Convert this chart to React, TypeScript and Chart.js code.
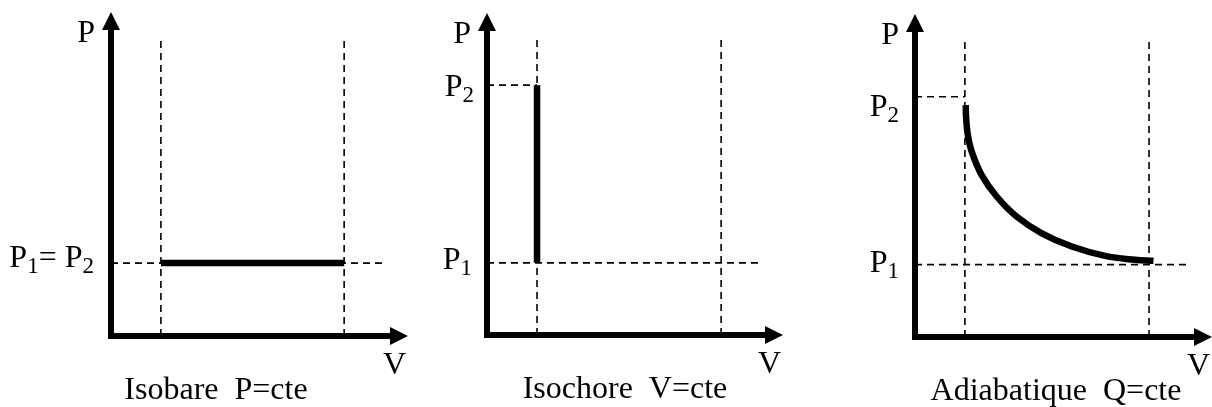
import { useEffect, useRef } from 'react';
import { Chart, registerables } from 'chart.js';

Chart.register(...registerables);

// ---------- data (arbitrary V / P units, axes 0..10) ----------
const AXIS_MIN = 0;
const AXIS_MAX = 10;

// Isobare: P = cte
const isobareV = [1.68, 7.85];
const isobareP = [2.25, 2.25];
const isobareGuideV = [1.68, 7.85];
const isobareGuideP = [2.25];
const isobareGuideTop = 9.14;
const isobareGuideRight = 9.23;

// Isochore: V = cte
const isochoreV = [1.69, 1.69];
const isochoreP = [2.24, 7.76];
const isochoreGuideV = [1.69, 7.91];
const isochoreGuideP1 = 2.24;
const isochoreGuideP2 = 7.76;
const isochoreGuideTop = 9.16;
const isochoreGuideRight = 9.22;

// Adiabatique: Q = cte
const adiabaticV = [1.71, 1.72, 1.78, 1.91, 2.24, 2.75, 3.42, 4.27, 5.28, 6.4, 7.41, 8.03];
const adiabaticP = [7.18, 6.8, 6.25, 5.74, 5.02, 4.35, 3.73, 3.21, 2.8, 2.51, 2.39, 2.36];
const adiabaticGuideV = [1.68, 7.88];
const adiabaticGuideP1 = 2.24;
const adiabaticGuideP2 = 7.44;
const adiabaticGuideTop = 9.14;
const adiabaticGuideRight = 9.19;

const titles = ['Isobare  P=cte', 'Isochore  V=cte', 'Adiabatique  Q=cte'];

// ---------- helpers ----------
type Part = [string, boolean];
const MAIN_FONT = '32px "Liberation Serif", "Times New Roman", serif';
const SUB_FONT = '23px "Liberation Serif", "Times New Roman", serif';

function drawRich(ctx: CanvasRenderingContext2D, parts: Part[], x: number, y: number, align: 'left' | 'right' | 'center') {
  const widths = parts.map(([t, s]) => {
    ctx.font = s ? SUB_FONT : MAIN_FONT;
    return ctx.measureText(t).width;
  });
  const total = widths.reduce((a, b) => a + b, 0);
  let cx = align === 'right' ? x - total : align === 'center' ? x - total / 2 : x;
  ctx.textAlign = 'left';
  ctx.textBaseline = 'alphabetic';
  parts.forEach(([t, s], i) => {
    ctx.font = s ? SUB_FONT : MAIN_FONT;
    ctx.fillText(t, cx, s ? y + 6 : y);
    cx += widths[i];
  });
}

function seg(x1: number, y1: number, x2: number, y2: number) {
  return [
    { x: x1, y: y1 },
    { x: x2, y: y2 },
  ];
}

type TickLabel = { parts: Part[]; value: number; dy: number; dx: number };

type PanelCfg = {
  left: number;
  width: number;
  padding: { left: number; right: number; top: number; bottom: number };
  mainV: number[];
  mainP: number[];
  curve: boolean;
  guides: { x: number; y: number }[][];
  ticks: TickLabel[];
  title: string;
  titleX: number;
};

const panels: PanelCfg[] = [
  {
    left: 0,
    width: 410,
    padding: { left: 111, right: 2, top: 12, bottom: 71 },
    mainV: isobareV,
    mainP: isobareP,
    curve: false,
    guides: [
      ...isobareGuideV.map((v) => seg(v, AXIS_MIN, v, isobareGuideTop)),
      ...isobareGuideP.map((p) => seg(AXIS_MIN, p, isobareGuideRight, p)),
    ],
    ticks: [
      {
        parts: [
          ['P', false],
          ['1', true],
          ['= P', false],
          ['2', true],
        ],
        value: isobareP[0],
        dy: 4,
        dx: -17,
      },
    ],
    title: titles[0],
    titleX: 105,
  },
  {
    left: 410,
    width: 380,
    padding: { left: 77, right: 7, top: 13, bottom: 72 },
    mainV: isochoreV,
    mainP: isochoreP,
    curve: false,
    guides: [
      ...isochoreGuideV.map((v) => seg(v, AXIS_MIN, v, isochoreGuideTop)),
      seg(AXIS_MIN, isochoreGuideP1, isochoreGuideRight, isochoreGuideP1),
      seg(AXIS_MIN, isochoreGuideP2, isochoreGuideV[0], isochoreGuideP2),
    ],
    ticks: [
      { parts: [['P', false], ['2', true]], value: isochoreGuideP2, dy: 11, dx: -13 },
      { parts: [['P', false], ['1', true]], value: isochoreGuideP1, dy: 6, dx: -15 },
    ],
    title: titles[1],
    titleX: 138,
  },
  {
    left: 790,
    width: 422,
    padding: { left: 125, right: 0, top: 14, bottom: 70 },
    mainV: adiabaticV,
    mainP: adiabaticP,
    curve: true,
    guides: [
      ...adiabaticGuideV.map((v) => seg(v, AXIS_MIN, v, adiabaticGuideTop)),
      seg(AXIS_MIN, adiabaticGuideP1, adiabaticGuideRight, adiabaticGuideP1),
      seg(AXIS_MIN, adiabaticGuideP2, adiabaticGuideV[0], adiabaticGuideP2),
    ],
    ticks: [
      { parts: [['P', false], ['2', true]], value: adiabaticGuideP2, dy: 19, dx: -16 },
      { parts: [['P', false], ['1', true]], value: adiabaticGuideP1, dy: 7, dx: -16 },
    ],
    title: titles[2],
    titleX: 141,
  },
];

function makeOverlay(cfg: PanelCfg) {
  return {
    id: 'pvOverlay',
    afterDatasetsDraw(chart: any) {
      const ctx: CanvasRenderingContext2D = chart.ctx;
      const { left, right, top, bottom } = chart.chartArea;
      const yScale = chart.scales.y;
      ctx.save();
      ctx.fillStyle = '#000';
      ctx.strokeStyle = '#000';
      ctx.lineWidth = 6;
      ctx.lineCap = 'butt';
      // vertical axis (P)
      ctx.beginPath();
      ctx.moveTo(left, bottom + 3);
      ctx.lineTo(left, top + 16);
      ctx.stroke();
      ctx.beginPath();
      ctx.moveTo(left, top);
      ctx.lineTo(left - 9, top + 18);
      ctx.lineTo(left + 9, top + 18);
      ctx.closePath();
      ctx.fill();
      // horizontal axis (V)
      ctx.beginPath();
      ctx.moveTo(left - 3, bottom);
      ctx.lineTo(right - 16, bottom);
      ctx.stroke();
      ctx.beginPath();
      ctx.moveTo(right, bottom);
      ctx.lineTo(right - 18, bottom - 9);
      ctx.lineTo(right - 18, bottom + 9);
      ctx.closePath();
      ctx.fill();
      // axis titles
      drawRich(ctx, [['P', false]], left - 16, top + 30, 'right');
      drawRich(ctx, [['V', false]], right - 2, bottom + 38, 'right');
      // tick labels
      cfg.ticks.forEach((t) => {
        const y = yScale.getPixelForValue(t.value);
        drawRich(ctx, t.parts, left + t.dx, y + t.dy, 'right');
      });
      // caption
      drawRich(ctx, [[cfg.title, false]], left + cfg.titleX, bottom + 63, 'center');
      ctx.restore();
    },
  };
}

function Panel({ cfg }: { cfg: PanelCfg }) {
  const ref = useRef<HTMLCanvasElement | null>(null);
  useEffect(() => {
    if (!ref.current) return;
    const mainData = cfg.mainV.map((v, i) => ({ x: v, y: cfg.mainP[i] }));
    const chart = new Chart(ref.current, {
      type: 'line',
      data: {
        datasets: [
          {
            data: mainData,
            borderColor: '#000',
            borderWidth: 6.5,
            pointRadius: 0,
            fill: false,
            clip: false as any,
            tension: cfg.curve ? 0.4 : 0,
            borderCapStyle: 'butt',
            borderJoinStyle: 'round',
          } as any,
          ...cfg.guides.map((g) => ({
            data: g,
            borderColor: '#000',
            borderWidth: 1.6,
            borderDash: [7, 5],
            pointRadius: 0,
            fill: false,
            clip: false as any,
            tension: 0,
          })),
        ],
      },
      options: {
        responsive: false,
        animation: false,
        events: [],
        layout: { padding: cfg.padding },
        plugins: { legend: { display: false }, tooltip: { enabled: false } },
        scales: {
          x: { type: 'linear', min: AXIS_MIN, max: AXIS_MAX, display: false },
          y: { type: 'linear', min: AXIS_MIN, max: AXIS_MAX, display: false },
        },
      },
      plugins: [makeOverlay(cfg)],
    });
    return () => chart.destroy();
  }, [cfg]);
  return (
    <canvas
      ref={ref}
      width={cfg.width}
      height={407}
      style={{ position: 'absolute', left: cfg.left, top: 0, display: 'block' }}
    />
  );
}

export default function App() {
  return (
    <div style={{ position: 'absolute', left: 0, top: 0, width: 1212, height: 407, background: '#fff' }}>
      {panels.map((p, i) => (
        <Panel key={i} cfg={p} />
      ))}
    </div>
  );
}
